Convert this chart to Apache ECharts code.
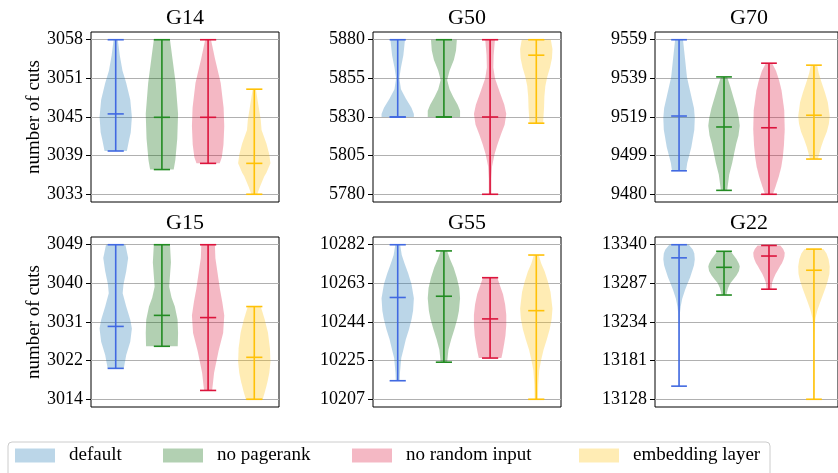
<!DOCTYPE html>
<html><head><meta charset="utf-8">
<script src="https://cdn.jsdelivr.net/npm/echarts@6/dist/echarts.min.js"></script>
<style>html,body{margin:0;padding:0;background:#fff}#c{width:838px;height:473px}</style>
</head><body><div id="c"></div>
<script>
// ---------- DATA ----------
const panelNames = ['G14', 'G50', 'G70', 'G15', 'G55', 'G22'];
const methods = ['default', 'no pagerank', 'no random input', 'embedding layer'];
const positions = [1, 2, 3, 4];

// tick values (labels shown truncated to integer)
const ticksG14 = [3033, 3039.25, 3045.5, 3051.75, 3058];
const ticksG50 = [5780, 5805, 5830, 5855, 5880];
const ticksG70 = [9480, 9499.75, 9519.5, 9539.25, 9559];
const ticksG15 = [3014, 3022.75, 3031.5, 3040.25, 3049];
const ticksG55 = [10207, 10225.75, 10244.5, 10263.25, 10282];
const ticksG22 = [13128, 13181, 13234, 13287, 13340];

// [min, middle, max] per method
const statsG14 = [[3040, 3046, 3058], [3037, 3045.45, 3058], [3038, 3045.45, 3058], [3033, 3038, 3050]];
const statsG50 = [[5830, 5830, 5880], [5830, 5830, 5880], [5780, 5830, 5880], [5826, 5870, 5880]];
const statsG70 = [[9492, 9520, 9559], [9482, 9514.4, 9540], [9480, 9514, 9547], [9498, 9520.4, 9546]];
const statsG15 = [[3021, 3030.5, 3049], [3026, 3033, 3049], [3016, 3032.5, 3049], [3014, 3023.5, 3035]];
const statsG55 = [[10216, 10256.4, 10282], [10225, 10257, 10279], [10227, 10246, 10266], [10207, 10250, 10277]];
const statsG22 = [[13146, 13322, 13340], [13271, 13309, 13331], [13279, 13324.5, 13339], [13128, 13305, 13334]];

// density profiles: [value, relative half-width]
const shapeG14_default = [[3058,.13],[3055.5,.25],[3053,.42],[3051,.65],[3048.3,.9],[3045.5,1],[3043,.93],[3041.8,.83],[3040,.69]];
const shapeG14_nopr = [[3058,.5],[3055,.65],[3051,.85],[3046,1],[3042,.95],[3038.5,.83],[3037,.73]];
const shapeG14_norand = [[3058,.18],[3055,.42],[3051,.78],[3047,.96],[3044,1],[3041,.95],[3039,.85],[3038,.72]];
const shapeG14_emb = [[3050,.1],[3047.5,.25],[3045,.4],[3043.4,.45],[3041.2,.75],[3039.5,.92],[3038,1],[3036.5,.75],[3035.9,.62],[3034.2,.35],[3033,.18]];

const shapeG50_default = [[5880,.45],[5870,.35],[5862,.2],[5855,.1],[5848,.2],[5842,.5],[5836,.85],[5832,1],[5830,1]];
const shapeG50_nopr = [[5880,.8],[5873,.75],[5867,.62],[5860,.35],[5854,.2],[5848,.35],[5843,.58],[5838,.85],[5834,1],[5830,1]];
const shapeG50_norand = [[5880,.3],[5870,.22],[5862,.2],[5855,.3],[5846,.6],[5838,.88],[5832,1],[5825,.9],[5819,.68],[5812,.45],[5806,.28],[5798,.12],[5790,.08],[5780,.08]];
const shapeG50_emb = [[5880,.9],[5874,1],[5868,.97],[5862,.85],[5856,.68],[5850,.56],[5843,.5],[5836,.48],[5826,.42]];

const shapeG70_default = [[9559,.25],[9550,.37],[9540,.5],[9530,.78],[9524,.95],[9519,1],[9513,.97],[9504,.78],[9496,.52],[9492,.45]];
const shapeG70_nopr = [[9540,.2],[9535,.4],[9530,.58],[9524,.8],[9519,.94],[9515,1],[9510,.92],[9506,.78],[9500,.62],[9496,.52],[9490,.33],[9482,.2]];
const shapeG70_norand = [[9547,.2],[9543,.45],[9538,.65],[9533,.8],[9523,.97],[9513,1],[9505,.95],[9499,.88],[9494,.78],[9489,.62],[9484,.42],[9480,.25]];
const shapeG70_emb = [[9546,.2],[9542,.3],[9538,.45],[9532,.7],[9527,.88],[9520,1],[9516,.95],[9512,.82],[9508,.62],[9504,.45],[9498,.25]];

const shapeG15_default = [[3049,.6],[3046,.77],[3043,.65],[3040,.48],[3038,.43],[3035,.65],[3032,.9],[3030,1],[3027,.9],[3024,.65],[3021,.5]];
const shapeG15_nopr = [[3049,.5],[3045,.56],[3042,.5],[3039.5,.45],[3037,.6],[3035,.8],[3032,.97],[3029,1],[3026,.98]];
const shapeG15_norand = [[3049,.42],[3046,.45],[3043,.57],[3039,.73],[3036,.88],[3033,1],[3029,.93],[3025,.65],[3020,.37],[3016,.25]];
const shapeG15_emb = [[3035,.4],[3032,.65],[3029,.85],[3025.5,.97],[3022.5,1],[3020,.93],[3018,.82],[3016,.68],[3014,.52]];

const shapeG55_default = [[10282,.15],[10277,.25],[10273,.42],[10268,.65],[10263,.85],[10256,1],[10250,.95],[10246,.86],[10241,.7],[10236,.5],[10231,.35],[10227,.22],[10220,.14],[10216,.12]];
const shapeG55_nopr = [[10279,.2],[10275,.38],[10271,.6],[10266,.8],[10261,.95],[10256,1],[10250,.93],[10246,.83],[10241,.65],[10236,.45],[10231,.28],[10225,.2]];
const shapeG55_norand = [[10266,.45],[10262,.62],[10258,.8],[10253,.93],[10248,1],[10243,1],[10238,.95],[10234,.87],[10230,.78],[10227,.7]];
const shapeG55_emb = [[10277,.15],[10273,.3],[10269,.52],[10264,.72],[10259,.88],[10251,1],[10246,.95],[10241,.83],[10236,.65],[10231,.45],[10226,.3],[10221,.18],[10214,.12],[10207,.1]];

const shapeG22_default = [[13340,.62],[13333,.88],[13328,.97],[13320,1],[13312,.95],[13305,.85],[13295,.7],[13288,.56],[13278,.38],[13266,.2],[13255,.1],[13245,.05],[13230,.03],[13200,.02],[13146,.02]];
const shapeG22_nopr = [[13331,.42],[13326,.6],[13320,.8],[13314,.95],[13310,1],[13304,.95],[13298,.8],[13292,.58],[13287,.4],[13281,.27],[13276,.2],[13271,.16]];
const shapeG22_norand = [[13339,.72],[13334,.9],[13329,1],[13324,.98],[13320,.93],[13315,.83],[13311,.72],[13305,.56],[13300,.42],[13294,.3],[13288,.2],[13279,.16]];
const shapeG22_emb = [[13334,.6],[13328,.8],[13320,.93],[13310,1],[13300,.98],[13290,.87],[13280,.72],[13270,.55],[13260,.38],[13250,.22],[13240,.1],[13230,.05],[13210,.02],[13128,.02]];

// ---------- STYLE ----------
const FONT = 'Liberation Serif';
const fillColors = ['rgba(31,119,180,0.3)', 'rgba(0,100,0,0.3)', 'rgba(220,20,60,0.3)', 'rgba(255,193,7,0.3)'];
const lineColors = ['#4169E1', '#228B22', '#DC143C', '#FFC107'];
const HALF = 0.35, CAP = 0.175;
const gridBoxes = [
  {left: 91, top: 32}, {left: 373, top: 32}, {left: 655, top: 32},
  {left: 91, top: 237}, {left: 373, top: 237}, {left: 655, top: 237}
];
const GW = 188, GH = 170;

const panels = [
  {ticks: ticksG14, stats: statsG14, shapes: [shapeG14_default, shapeG14_nopr, shapeG14_norand, shapeG14_emb]},
  {ticks: ticksG50, stats: statsG50, shapes: [shapeG50_default, shapeG50_nopr, shapeG50_norand, shapeG50_emb]},
  {ticks: ticksG70, stats: statsG70, shapes: [shapeG70_default, shapeG70_nopr, shapeG70_norand, shapeG70_emb]},
  {ticks: ticksG15, stats: statsG15, shapes: [shapeG15_default, shapeG15_nopr, shapeG15_norand, shapeG15_emb]},
  {ticks: ticksG55, stats: statsG55, shapes: [shapeG55_default, shapeG55_nopr, shapeG55_norand, shapeG55_emb]},
  {ticks: ticksG22, stats: statsG22, shapes: [shapeG22_default, shapeG22_nopr, shapeG22_norand, shapeG22_emb]}
];

const grid = [], xAxis = [], yAxis = [], series = [], title = [];
panels.forEach((p, i) => {
  const b = gridBoxes[i];
  grid.push({left: b.left, top: b.top, width: GW, height: GH, show: true,
    borderColor: '#000', borderWidth: 1, backgroundColor: 'transparent'});
  xAxis.push({type: 'value', gridIndex: i, min: 0.465, max: 4.535, show: false});
  const lo = p.ticks[0], hi = p.ticks[p.ticks.length - 1], r = hi - lo;
  yAxis.push({
    type: 'value', gridIndex: i, min: lo - 0.05 * r, max: hi + 0.05 * r,
    name: (i % 3 === 0) ? 'number of cuts' : '',
    nameLocation: 'middle', nameGap: 45,
    nameTextStyle: {fontFamily: FONT, fontSize: 19, color: '#000'},
    axisLine: {show: false},
    axisTick: {show: true, length: 5, inside: false, customValues: p.ticks, lineStyle: {color: '#000', width: 1}},
    axisLabel: {customValues: p.ticks, margin: 8, fontFamily: FONT, fontSize: 18, color: '#000',
      formatter: v => String(Math.floor(v + 1e-9))},
    splitLine: {show: true, lineStyle: {color: '#b0b0b0', width: 1}}
  });
  title.push({text: panelNames[i], left: b.left + GW / 2, top: b.top - 25, textAlign: 'center', padding: 0,
    textStyle: {fontFamily: FONT, fontSize: 22, fontWeight: 'normal', color: '#000'}});
  methods.forEach((m, k) => {
    const st = p.stats[k];
    const shape = p.shapes[k];
    series.push({
      type: 'custom', name: m, xAxisIndex: i, yAxisIndex: i,
      itemStyle: {color: fillColors[k]},
      silent: true,
      data: [[positions[k], st[0], st[1], st[2]]],
      renderItem: (params, api) => {
        const pos = api.value(0), vmin = api.value(1), vmid = api.value(2), vmax = api.value(3);
        const right = shape.map(([v, w]) => api.coord([pos + w * HALF, v]));
        const left = shape.map(([v, w]) => api.coord([pos - w * HALF, v])).reverse();
        const lc = lineColors[k];
        const ls = {stroke: lc, lineWidth: 1.6};
        const seg = (x1, y1, x2, y2) => {
          const a = api.coord([x1, y1]), c = api.coord([x2, y2]);
          return {type: 'line', shape: {x1: a[0], y1: a[1], x2: c[0], y2: c[1]}, style: ls};
        };
        return {type: 'group', children: [
          {type: 'polygon', shape: {points: right.concat(left)}, style: {fill: fillColors[k], stroke: null}},
          seg(pos, vmin, pos, vmax),
          seg(pos - CAP, vmin, pos + CAP, vmin),
          seg(pos - CAP, vmax, pos + CAP, vmax),
          seg(pos - CAP, vmid, pos + CAP, vmid)
        ]};
      }
    });
  });
});

const legendLefts = [15, 163, 352, 579];
const legend = methods.map((m, k) => ({
  data: [{name: m, icon: 'rect', itemStyle: {color: fillColors[k]}}],
  left: legendLefts[k], top: 446, padding: 0, itemWidth: 40, itemHeight: 14,
  selectedMode: false,
  textStyle: {fontFamily: FONT, fontSize: 19, color: '#000', padding: [0, 0, 0, 9]}
}));

const chart = echarts.init(document.getElementById('c'), null, {renderer: 'canvas'});
chart.setOption({
  animation: false,
  backgroundColor: '#fff',
  title, grid, xAxis, yAxis, series, legend,
  graphic: [{type: 'rect', z: -1, shape: {x: 8, y: 442, width: 762, height: 40, r: 4},
    style: {fill: '#fff', stroke: '#cccccc', lineWidth: 1}}]
});
</script></body></html>
